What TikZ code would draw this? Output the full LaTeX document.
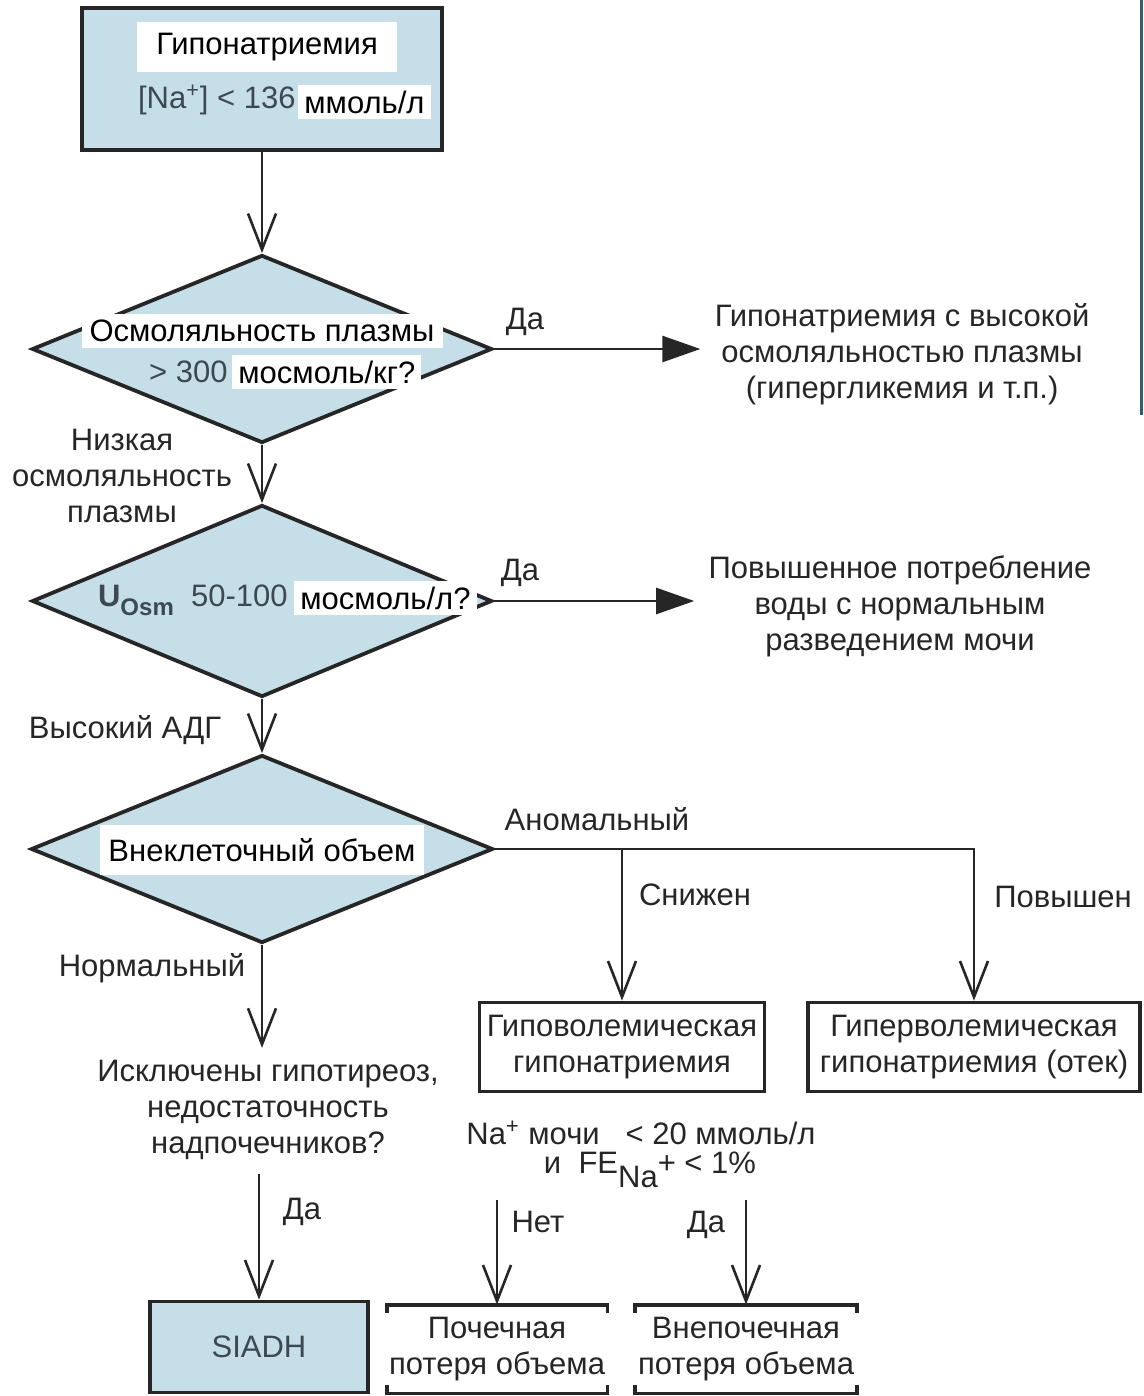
\documentclass[tikz,border=0pt]{standalone}
\usepackage{fontspec}
\setmainfont{Liberation Sans}
\usetikzlibrary{shapes.geometric,arrows.meta}
\definecolor{fillblue}{HTML}{C6DEE7}
\definecolor{ink}{HTML}{262626}
\definecolor{greyink}{HTML}{3C4852}
\definecolor{edgeline}{HTML}{2E5F6E}
\begin{document}
\begin{tikzpicture}[x=0.5pt,y=-0.5pt,
  every node/.style={font=\fontsize{15.5}{18}\selectfont, text=ink, inner sep=0pt},
  bluebox/.style={draw=ink, line width=1.9pt, fill=fillblue},
  outbox/.style={draw=ink, line width=1.9pt, fill=white, align=center},
  dia/.style={diamond, draw=ink, line width=1.9pt, fill=fillblue, inner sep=0pt},
  whitebg/.style={fill=white, inner xsep=4pt, inner ysep=3pt, text=black},
  greytext/.style={text=greyink},
  arr/.style={draw=ink, line width=1.3pt, -{Straight Barb[length=18pt,width=14pt,line width=1.3pt]}},
  tri/.style={draw=ink, line width=1.3pt, -{Triangle[length=19pt,width=13pt]}}]
\useasboundingbox (0,0) rectangle (1144,1396);
\fill[white] (0,0) rectangle (1144,1396);
\draw[edgeline, line width=1.5pt] (1141,0) -- (1141,415);

% start box
\node[bluebox, minimum width=180pt, minimum height=71pt] (start) at (262,79) {};
\node[whitebg, minimum width=130pt, minimum height=25pt] (t1) at (267,47) {Гипонатриемия};
\node[greytext, anchor=east] (t2) at (296,100) {[Na\textsuperscript{+}] < 136};
\node[whitebg, anchor=west, inner xsep=3pt] (t3) at (298,102) {ммоль/л};

% diamond 1
\node[dia, minimum width=230pt, minimum height=94pt] (d1) at (262,349) {};
\node[whitebg] (d1a) at (262,331) {Осмоляльность плазмы};
\node[greytext, anchor=east] (d1b) at (228,372) {> 300};
\node[whitebg, anchor=west, inner xsep=3pt] (d1c) at (232,372) {мосмоль/кг?};
\node (yes1) at (525,322) {Да};
\node[align=center] (out1) at (902,354) {Гипонатриемия с высокой\\осмоляльностью плазмы\\(гипергликемия и т.п.)};
\draw[tri, shorten >=7pt] (d1.east) -- (d1.east -| out1.west);
\draw[arr] (start.south) -- (d1.north);

% diamond 2
\node[align=center] (low) at (122,476) {Низкая\\осмоляльность\\плазмы};
\node[dia, minimum width=230pt, minimum height=96pt] (d2) at (262,601) {};
\draw[arr] (d1.south) -- (d2.north);
\node[greytext, anchor=east] (d2a) at (288,600) {\textbf{U\raisebox{-0.3em}{\fontsize{12}{14}\selectfont Osm}}\ \ 50-100};
\node[whitebg, anchor=west, inner xsep=3pt] (d2b) at (294,598) {мосмоль/л?};
\node (yes2) at (520,573) {Да};
\node[align=center] (out2) at (900,606) {Повышенное потребление\\воды с нормальным\\разведением мочи};
\draw[tri, shorten >=7pt] (d2.east) -- (d2.east -| out2.west);

% diamond 3
\node (adh) at (125,730) {Высокий АДГ};
\node[dia, minimum width=231pt, minimum height=94pt] (d3) at (262,849) {};
\draw[arr] (d2.south) -- (d3.north);
\node[whitebg, minimum width=162pt, minimum height=25pt] (d3a) at (262,850) {Внеклеточный объем};
\node (abn) at (597,819) {Аномальный};

\node[outbox, minimum width=142.5pt, minimum height=44.5pt] (hypo) at (622,1047) {Гиповолемическая\\гипонатриемия};
\node[outbox, minimum width=166pt, minimum height=44.5pt] (hyper) at (974,1047) {Гиперволемическая\\гипонатриемия (отек)};
\draw[arr] (d3.east) -| (hyper.north);
\draw[arr] (d3.east -| hypo.north) -- (hypo.north);
\node (dec) at (695,895) {Снижен};
\node (inc) at (1063,897) {Повышен};

% normal branch
\node (norm) at (152,968) {Нормальный};
\node[align=center] (q) at (268,1110) {Исключены гипотиреоз,\\недостаточность\\надпочечников?};
\draw[arr, shorten >=6pt] (d3.south) -- (d3.south |- q.north);
\node[bluebox, greytext, minimum width=109pt, minimum height=45.5pt] (siadh) at (259,1347) {SIADH};
\draw[arr, shorten <=7pt] (siadh.north |- q.south) -- (siadh.north);
\node (yes3) at (302,1212) {Да};

% urine sodium
\node (na1) at (641,1133) {Na\textsuperscript{+} мочи\ \ \ < 20 ммоль/л};
\node (na2) at (650,1170) {и\ \ FE\raisebox{-0.45em}{Na}+ < 1\%};
\node[align=center, minimum width=110pt, minimum height=44pt] (renal) at (497,1349) {Почечная\\потеря объема};
\node[align=center, minimum width=110.5pt, minimum height=44pt] (extra) at (746,1349) {Внепочечная\\потеря объема};
\foreach \b in {renal,extra}{
  \draw[ink, line width=1.9pt] (\b.north west) ++(0,8) -- ++(0,-8) -- (\b.north east) -- ++(0,8);
  \draw[ink, line width=1.9pt] (\b.south west) ++(0,-8) -- ++(0,8) -- (\b.south east) -- ++(0,-8);
}
\draw[arr, shorten <=6pt] (renal.north |- na2.south) -- (renal.north);
\draw[arr, shorten <=6pt] (extra.north |- na2.south) -- (extra.north);
\node (no4) at (538,1222) {Нет};
\node (yes4) at (706,1225) {Да};
\end{tikzpicture}
\end{document}
